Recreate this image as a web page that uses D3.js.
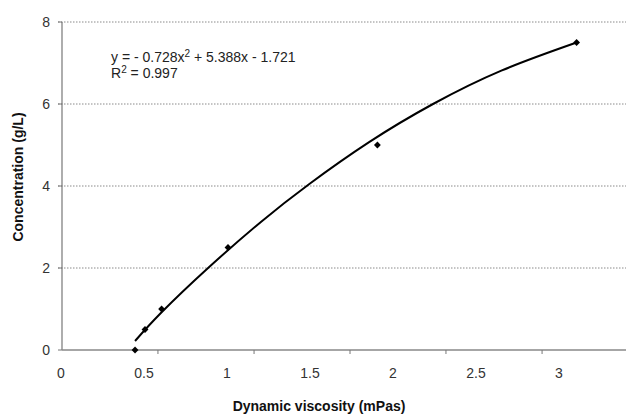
<!DOCTYPE html>
<html>
<head>
<meta charset="utf-8">
<script src="https://cdn.jsdelivr.net/npm/d3@7"></script>
<style>
body { margin: 0; background: #fff; }
svg { display: block; font-family: Arial, "Liberation Sans", sans-serif; }
</style>
</head>
<body>
<script>
// measured points
var viscosity = [0.44, 0.5, 0.6, 1.0, 1.9, 3.1];
var concentration = [0, 0.5, 1.0, 2.5, 5.0, 7.5];

// trendline
var trendX = [0.44, 0.6, 0.88, 1.2, 1.49, 1.85, 2.235, 2.65, 3.1];
var trendY = [0.22, 0.92, 2.0, 3.13, 4.05, 5.07, 6.0, 6.82, 7.5];

var xLabels = [0, 0.5, 1, 1.5, 2, 2.5, 3];
var xTickMarks = [0.578, 1.157, 1.735, 2.313, 2.892];
var yTicks = [0, 2, 4, 6, 8];

var width = 626, height = 414;

var svg = d3.select("body").append("svg")
	.attr("width", width)
	.attr("height", height);

var x = d3.scaleLinear().domain([0, 3.4]).range([62, 626.4]);
var y = d3.scaleLinear().domain([0, 8]).range([350, 22]);

// gridlines
svg.selectAll(".grid")
	.data(yTicks.filter(function(d) { return d > 0; }))
	.enter().append("line")
	.attr("x1", 58).attr("x2", width)
	.attr("y1", function(d) { return y(d); })
	.attr("y2", function(d) { return y(d); })
	.attr("stroke", "#8a8a8a")
	.attr("stroke-width", 1)
	.attr("stroke-dasharray", "1.5,1.5");

// y axis
svg.append("line")
	.attr("x1", x(0)).attr("x2", x(0))
	.attr("y1", y(8)).attr("y2", y(0))
	.attr("stroke", "#777").attr("stroke-width", 1.2);

svg.selectAll(".ytick")
	.data(yTicks)
	.enter().append("line")
	.attr("x1", 58).attr("x2", x(0))
	.attr("y1", function(d) { return y(d); })
	.attr("y2", function(d) { return y(d); })
	.attr("stroke", "#777");

svg.selectAll(".ylab")
	.data(yTicks)
	.enter().append("text")
	.attr("x", 50)
	.attr("y", function(d) { return y(d) + 5; })
	.attr("text-anchor", "end")
	.attr("font-size", 14)
	.attr("fill", "#333")
	.text(function(d) { return d; });

// x axis
svg.append("line")
	.attr("x1", x(0)).attr("x2", width)
	.attr("y1", y(0)).attr("y2", y(0))
	.attr("stroke", "#888").attr("stroke-width", 1.5);

svg.selectAll(".xtick")
	.data(xTickMarks)
	.enter().append("line")
	.attr("x1", function(d) { return x(d); })
	.attr("x2", function(d) { return x(d); })
	.attr("y1", y(0)).attr("y2", y(0) + 4)
	.attr("stroke", "#777");

svg.selectAll(".xlab")
	.data(xLabels)
	.enter().append("text")
	.attr("x", function(d) { return x(d) - 1; })
	.attr("y", 378)
	.attr("text-anchor", "middle")
	.attr("font-size", 14)
	.attr("fill", "#333")
	.text(function(d) { return d; });

// axis titles
svg.append("text")
	.attr("x", 319).attr("y", 411)
	.attr("text-anchor", "middle")
	.attr("font-size", 14)
	.attr("font-weight", "bold")
	.attr("fill", "#111")
	.text("Dynamic viscosity (mPas)");

svg.append("text")
	.attr("transform", "translate(23,177) rotate(-90)")
	.attr("text-anchor", "middle")
	.attr("font-size", 14)
	.attr("font-weight", "bold")
	.attr("fill", "#111")
	.text("Concentration (g/L)");

// trend line
var line = d3.line()
	.x(function(d) { return x(d[0]); })
	.y(function(d) { return y(d[1]); })
	.curve(d3.curveNatural);

svg.append("path")
	.datum(d3.zip(trendX, trendY))
	.attr("d", line)
	.attr("fill", "none")
	.attr("stroke", "#000")
	.attr("stroke-width", 2);

// points
svg.selectAll(".pt")
	.data(d3.zip(viscosity, concentration))
	.enter().append("path")
	.attr("d", d3.symbol().type(d3.symbolDiamond2).size(30))
	.attr("transform", function(d) { return "translate(" + x(d[0]) + "," + y(d[1]) + ")"; })
	.attr("fill", "#000");

// equation
var eq = svg.append("text")
	.attr("x", 111).attr("y", 62)
	.attr("font-size", 14)
	.attr("fill", "#222");
eq.append("tspan").text("y = - 0.728x");
eq.append("tspan").attr("font-size", 10).attr("dy", -5).text("2");
eq.append("tspan").attr("dy", 5).text(" + 5.388x - 1.721");

var r2 = svg.append("text")
	.attr("x", 111).attr("y", 78)
	.attr("font-size", 14)
	.attr("fill", "#222");
r2.append("tspan").text("R");
r2.append("tspan").attr("font-size", 10).attr("dy", -5).text("2");
r2.append("tspan").attr("dy", 5).text(" = 0.997");
</script>
</body>
</html>
